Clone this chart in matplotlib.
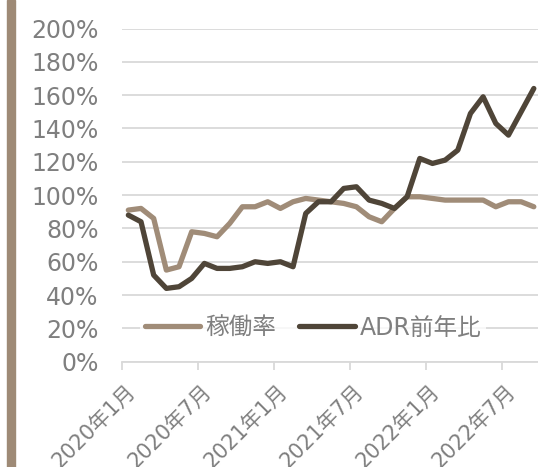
import numpy as np
import matplotlib.pyplot as plt
import matplotlib.transforms as mtransforms
from matplotlib.patches import Rectangle
from matplotlib.ticker import FuncFormatter

plt.rcParams['font.family'] = ['DejaVu Sans', 'Noto Sans CJK JP']

# monthly series, 2020年1月 .. 2022年9月 (percent)
months = [f"{y}年{m}月" for y in (2020, 2021, 2022) for m in range(1, 13)][:33]
occupancy = [91, 92, 86, 55, 57, 78, 77, 75, 83, 93, 93, 96,
             92, 96, 98, 97, 96, 95, 93, 87, 84, 92, 99, 99,
             98, 97, 97, 97, 97, 93, 96, 96, 93]
adr_yoy = [88, 84, 52, 44, 45, 50, 59, 56, 56, 57, 60, 59,
           60, 57, 89, 96, 96, 104, 105, 97, 95, 92, 99, 122,
           119, 121, 127, 149, 159, 143, 136, 150, 164]
series_names = ['稼働率', 'ADR前年比']

LIGHT = '#a08c78'
DARK = '#4f4538'
GRID = '#d9d9d9'
TEXT = '#7f7f7f'

W, H = 538, 467
fig = plt.figure(figsize=(W / 100, H / 100), dpi=100)
fig.patches.append(Rectangle((7 / W, 0), 8 / W, 1, transform=fig.transFigure,
                             color='#9e8a76', zorder=0))

ax = fig.add_axes([122 / W, 105.3 / H, 416 / W, 333.2 / H])
x = np.arange(len(months))
line_kw = dict(lw=3.8, solid_joinstyle='round', solid_capstyle='round')
ax.plot(x, occupancy, color=LIGHT, label=series_names[0], zorder=3, **line_kw)
ax.plot(x, adr_yoy, color=DARK, label=series_names[1], zorder=4, **line_kw)

ax.set_ylim(0, 200)
ax.set_xlim(-0.5, 32.33)
ax.set_yticks(range(0, 201, 20))
ax.yaxis.set_major_formatter(FuncFormatter(lambda v, _: f"{v:.0f}%"))
ax.grid(axis='y', color=GRID, lw=1.3)
ax.set_axisbelow(True)
for side in ('left', 'right', 'top'):
    ax.spines[side].set_visible(False)
ax.spines['bottom'].set_color(GRID)
ax.spines['bottom'].set_linewidth(1.3)
ax.tick_params(axis='y', length=0, pad=17, labelsize=17, labelcolor=TEXT)

# month labels sit under each category, tick marks on the boundaries
ax.set_xticks(x[::6])
ax.set_xticklabels(months[::6], rotation=45, ha='right', va='center',
                   rotation_mode='anchor')
ax.tick_params(axis='x', which='major', length=0, pad=19, labelsize=15,
               labelcolor=TEXT)
shift = mtransforms.ScaledTranslation(4 / 100, 0, fig.dpi_scale_trans)
for lbl in ax.get_xticklabels():
    lbl.set_transform(lbl.get_transform() + shift)
ax.set_xticks(np.arange(-0.5, len(months), 6), minor=True)
ax.tick_params(axis='x', which='minor', length=6, width=1.3, color=GRID)

leg = ax.legend(loc='center', bbox_to_anchor=(313 / W, 1 - 327.5 / H),
                bbox_transform=fig.transFigure, ncol=2, frameon=True,
                fontsize=17, handlelength=2.35, handletextpad=0.2,
                columnspacing=1.0, borderpad=0.2, fancybox=False)
leg.get_frame().set_facecolor('white')
leg.get_frame().set_edgecolor('none')
for t in leg.get_texts():
    t.set_color(TEXT)

fig.savefig('out.png', dpi=100)
